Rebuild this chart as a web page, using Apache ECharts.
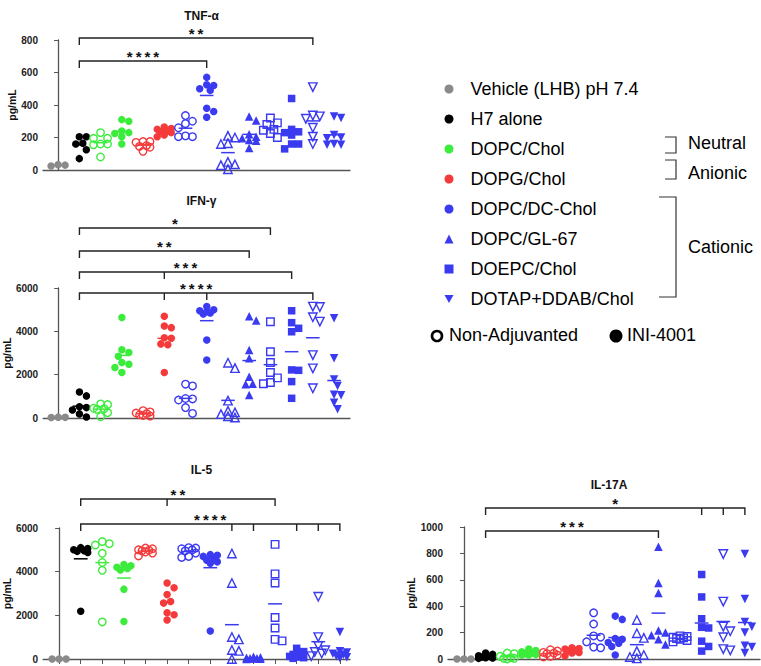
<!DOCTYPE html>
<html>
<head>
<meta charset="utf-8">
<script src="https://cdn.jsdelivr.net/npm/echarts@6/dist/echarts.min.js"></script>
<style>
  html, body { margin: 0; padding: 0; background: #fff; }
  #chart { width: 761px; height: 666px; }
</style>
</head>
<body>
<div id="chart"></div>
<script>
// groups along each x axis (open = non-adjuvanted, filled = INI-4001)
const groupNames = ['Vehicle (LHB) pH 7.4', 'H7 alone', 'DOPC/Chol', 'DOPC/Chol', 'DOPG/Chol', 'DOPG/Chol',
  'DOPC/DC-Chol', 'DOPC/DC-Chol', 'DOPC/GL-67', 'DOPC/GL-67', 'DOEPC/Chol', 'DOEPC/Chol',
  'DOTAP+DDAB/Chol', 'DOTAP+DDAB/Chol'];
const groupFilled = [true, true, false, true, false, true, false, true, false, true, false, true, false, true];
const legendNames = ['Vehicle (LHB) pH 7.4', 'H7 alone', 'DOPC/Chol', 'DOPG/Chol', 'DOPC/DC-Chol',
  'DOPC/GL-67', 'DOEPC/Chol', 'DOTAP+DDAB/Chol'];

// pg/mL per mouse, one list per group
const tnfValues = [
  [25, 33, 30],
  [205, 205, 165, 160, 125, 70],
  [230, 195, 195, 160, 160, 155, 80],
  [310, 300, 240, 230, 225, 205, 160],
  [175, 175, 170, 150, 145, 140, 115],
  [265, 255, 250, 240, 235, 230, 215, 205],
  [335, 300, 285, 260, 210, 205, 205],
  [570, 525, 520, 500, 490, 380, 360, 325],
  [210, 200, 165, 160, 50, 35, 30, 5],
  [330, 305, 220, 205, 195, 185, 180, 135],
  [320, 290, 280, 250, 245, 225, 200],
  [440, 250, 235, 230, 215, 160, 160, 130],
  [510, 335, 330, 315, 260, 205, 160],
  [330, 320, 215, 200, 195, 160, 155, 155]
];
const ifnValues = [
  [20, 30, 40],
  [1200, 1020, 520, 480, 370, 190, 50],
  [650, 620, 450, 430, 400, 250, 60],
  [4640, 3150, 3020, 2850, 2560, 2480, 2330, 2100],
  [340, 280, 230, 200, 150, 120, 90],
  [4700, 4250, 4170, 3700, 3680, 3420, 3380, 2100],
  [1560, 1480, 900, 880, 830, 480, 210],
  [5150, 5000, 4950, 4900, 4850, 4800, 3600, 2680],
  [2550, 2300, 800, 330, 260, 180, 80, 20],
  [4700, 4500, 3140, 2760, 1900, 1580, 1560, 1060],
  [4440, 3060, 2560, 2100, 1850, 1640, 1580],
  [4950, 4400, 4140, 3980, 2220, 2200, 1680, 910],
  [5140, 5120, 4650, 4450, 2900, 2290, 1370],
  [4600, 2760, 1780, 1480, 1070, 1050, 700, 400]
];
const il5Values = [
  [0, 0, 0],
  [5100, 5060, 5000, 4960, 4930, 4880, 2190],
  [5380, 5280, 5220, 4840, 4420, 4060, 1700],
  [4330, 4270, 4200, 4150, 4080, 3200, 1720],
  [5080, 5050, 5000, 4980, 4950, 4900, 4850, 4720],
  [3480, 3260, 2950, 2630, 2560, 2120, 2030, 1790],
  [5100, 5080, 5050, 5000, 4950, 4850, 4700, 4650],
  [4780, 4750, 4700, 4600, 4520, 4450, 4380, 1280],
  [4830, 3480, 1010, 900, 410, 370, 0],
  [100, 80, 60, 40, 30, 20, 10, 5],
  [5250, 3900, 3480, 1900, 1420, 900, 830],
  [490, 340, 210, 160, 120, 90, 60, 30],
  [2850, 1000, 600, 400, 320, 250, 130],
  [1240, 360, 300, 240, 190, 130, 80, 40]
];
const il17Values = [
  [0, 0, 0],
  [45, 35, 25, 20, 15, 10, 8, 5],
  [45, 40, 20, 10, 5, 5, 0],
  [75, 65, 55, 45, 40, 35, 30, 30],
  [70, 60, 50, 45, 40, 30, 20, 15],
  [85, 80, 75, 65, 60, 50, 45, 25],
  [350, 265, 175, 165, 130, 90, 85],
  [325, 300, 155, 150, 125, 120, 95, 30],
  [295, 195, 160, 60, 30, 15, 5],
  [850, 575, 500, 215, 200, 180, 150, 110],
  [175, 170, 165, 160, 155, 150, 140, 130],
  [640, 470, 305, 240, 235, 135, 95, 60],
  [795, 435, 245, 210, 165, 75, 65],
  [795, 455, 280, 245, 200, 100, 90, 45]
];

// y tick labels
const tnfTicks = [0, 200, 400, 600, 800];
const ifnTicks = [0, 2000, 4000, 6000];
const il5Ticks = [0, 2000, 4000, 6000];
const il17Ticks = [0, 200, 400, 600, 800, 1000];

// significance brackets: group index from/to, extra drops, stars
const tnfBrackets = [
  { from: 1, to: 12, mids: [], label: '**' },
  { from: 1, to: 7, mids: [], label: '****' }
];
const ifnBrackets = [
  { from: 1, to: 10, mids: [], label: '*' },
  { from: 1, to: 9, mids: [], label: '**' },
  { from: 1, to: 11, mids: [5], label: '***' },
  { from: 1, to: 12, mids: [5, 7], label: '****' }
];
const il5Brackets = [
  { from: 1, to: 10, mids: [5], label: '**' },
  { from: 1, to: 13, mids: [8, 9, 11, 12], label: '****' }
];
const il17Brackets = [
  { from: 1, to: 13, mids: [11, 12], label: '*' },
  { from: 1, to: 9, mids: [], label: '***' }
];

// ---- styles / layout ----
const FONT = '"Liberation Sans", Arial, Helvetica, sans-serif';
const colorOf = {
  'Vehicle (LHB) pH 7.4': '#8a8a8a',
  'H7 alone': '#000000',
  'DOPC/Chol': '#3cec3c',
  'DOPG/Chol': '#f43a3a',
  'DOPC/DC-Chol': '#3a3af0',
  'DOPC/GL-67': '#3a3af0',
  'DOEPC/Chol': '#3a3af0',
  'DOTAP+DDAB/Chol': '#3a3af0'
};
const symbolOf = {
  'DOPC/GL-67': ['triangle', 8.5],
  'DOEPC/Chol': ['rect', 7.5],
  'DOTAP+DDAB/Chol': ['path://M0,0L10,0L5,8.7Z', 8.5]
};

const panels = [
  { title: 'TNF-α', titleTop: 5, values: tnfValues, ticks: tnfTicks, brackets: tnfBrackets, levels: [-2, 21],
    grid: { left: 43, top: 40, width: 307, height: 130 }, xMin: -0.71, xMax: 13.75, xTicks: false, nameGap: 25 },
  { title: 'IFN-γ', titleTop: 190, values: ifnValues, ticks: ifnTicks, brackets: ifnBrackets, levels: [-60, -37, -16, 5],
    grid: { left: 43, top: 288, width: 307, height: 130 }, xMin: -0.71, xMax: 13.75, xTicks: false, nameGap: 30 },
  { title: 'IL-5', titleTop: 459, values: il5Values, ticks: il5Ticks, brackets: il5Brackets, levels: [-29, -4],
    grid: { left: 43, top: 528, width: 307, height: 131 }, xMin: -0.74, xMax: 13.47, xTicks: true, nameGap: 30 },
  { title: 'IL-17A', titleTop: 474, values: il17Values, ticks: il17Ticks, brackets: il17Brackets, levels: [-19, 4],
    grid: { left: 448, top: 527, width: 312, height: 132 }, xMin: -0.74, xMax: 13.7, xTicks: false, nameGap: 32 }
];

// compact beeswarm: points of close value sit side by side, within a narrow column
function swarm(vals, pxY, pxX) {
  const D = 7;
  const cand = [0, 3.5, -3.5, 7, -7];
  const order = vals.map((v, i) => i).sort((a, b) => vals[b] - vals[a]);
  const placed = [];
  const offs = vals.map(() => 0);
  order.forEach(i => {
    const y = vals[i] * pxY;
    let best = 0, bestD = -1;
    for (const dx of cand) {
      const d = placed.reduce((m, p) => Math.min(m, Math.hypot(p.x - dx, p.y - y)), Infinity);
      if (d >= D) { best = dx; bestD = d; break; }
      if (d > bestD) { best = dx; bestD = d; }
    }
    offs[i] = best;
    placed.push({ x: best, y: y });
  });
  return offs.map(o => o / pxX);
}

const mean = arr => arr.reduce((a, b) => a + b, 0) / arr.length;

const grids = [], xAxes = [], yAxes = [], titles = [], series = [];

panels.forEach((p, pi) => {
  const yMax = p.ticks[p.ticks.length - 1];
  grids.push(p.grid);
  titles.push({
    text: p.title, left: p.grid.left + p.grid.width / 2, top: p.titleTop, textAlign: 'center',
    textStyle: { fontFamily: FONT, fontSize: 12, fontWeight: 'bold', color: '#111' }
  });
  xAxes.push({
    type: 'value', gridIndex: pi, min: p.xMin, max: p.xMax,
    axisLine: { show: true, lineStyle: { color: '#555', width: 1.3 } },
    axisTick: p.xTicks ? { show: true, length: 5, customValues: p.values.map((v, i) => i), lineStyle: { color: '#555', width: 1 } } : { show: false },
    axisLabel: { show: false },
    splitLine: { show: false }
  });
  yAxes.push({
    type: 'value', gridIndex: pi, min: p.ticks[0], max: yMax, interval: p.ticks[1] - p.ticks[0],
    name: 'pg/mL', nameLocation: 'middle', nameGap: p.nameGap,
    nameTextStyle: { fontFamily: FONT, fontSize: 10.5, fontWeight: 'bold', color: '#111' },
    axisLine: { show: true, lineStyle: { color: '#555', width: 1.3 } },
    axisTick: { show: true, length: 4, lineStyle: { color: '#555' } },
    axisLabel: { fontFamily: FONT, fontSize: 10, fontWeight: 'bold', color: '#222', margin: 5, formatter: v => String(v) },
    splitLine: { show: false }
  });

  const pxY = p.grid.height / yMax;
  const pxX = p.grid.width / (p.xMax - p.xMin);

  p.values.forEach((vals, gi) => {
    const name = groupNames[gi];
    const filled = groupFilled[gi];
    const c = colorOf[name];
    const sym = symbolOf[name] || ['circle', 7.5];
    const offs = swarm(vals, pxY, pxX);
    series.push({
      type: 'scatter', name: filled ? name : name + ' (Non-Adjuvanted)',
      xAxisIndex: pi, yAxisIndex: pi, clip: false, silent: true,
      symbol: sym[0], symbolSize: sym[1],
      itemStyle: filled ? { color: c, opacity: 1 } : { color: 'rgba(255,255,255,0)', borderColor: c, borderWidth: 1.4, opacity: 1 },
      emphasis: { disabled: true },
      data: vals.map((v, k) => [gi + offs[k], v])
    });
  });

  // mean lines
  series.push({
    type: 'custom', xAxisIndex: pi, yAxisIndex: pi, silent: true, clip: false,
    data: p.values.map((vals, gi) => [gi, mean(vals)]),
    renderItem: (params, api) => {
      const gi = api.value(0);
      const a = api.coord([gi - 0.32, api.value(1)]);
      const b = api.coord([gi + 0.32, api.value(1)]);
      return {
        type: 'line', shape: { x1: a[0], y1: a[1], x2: b[0], y2: b[1] },
        style: { stroke: colorOf[groupNames[gi]], lineWidth: 1.5 }
      };
    }
  });

  // significance brackets
  series.push({
    type: 'custom', xAxisIndex: pi, yAxisIndex: pi, silent: true, clip: false,
    data: p.brackets.map(b => [b.from, b.to, yMax]),
    encode: { x: [0, 1], y: 2 },
    renderItem: (params, api) => {
      const b = p.brackets[params.dataIndex];
      const top = api.coord([b.from, yMax])[1];
      const y = top + p.levels[params.dataIndex];
      const drop = 7;
      const x1 = api.coord([b.from, 0])[0];
      const x2 = api.coord([b.to, 0])[0];
      const children = [{
        type: 'polyline',
        shape: { points: [[x1, y + drop], [x1, y], [x2, y], [x2, y + drop]] },
        style: { stroke: '#222', lineWidth: 1.4, fill: null }
      }];
      b.mids.forEach(m => {
        const xm = api.coord([m, 0])[0];
        children.push({ type: 'line', shape: { x1: xm, y1: y, x2: xm, y2: y + drop }, style: { stroke: '#222', lineWidth: 1.4 } });
      });
      children.push({
        type: 'text',
        style: {
          x: (x1 + x2) / 2, y: y + 3, text: b.label.split('').join('\u2009'),
          textAlign: 'center', textVerticalAlign: 'bottom',
          font: 'bold 15px ' + FONT, fill: '#111'
        }
      });
      return { type: 'group', children: children };
    }
  });
});

const chart = echarts.init(document.getElementById('chart'), null, { renderer: 'svg' });
chart.setOption({
  animation: false,
  backgroundColor: '#fff',
  textStyle: { fontFamily: FONT },
  title: titles,
  grid: grids,
  xAxis: xAxes,
  yAxis: yAxes,
  legend: {
    data: legendNames, orient: 'vertical', left: 439.5, top: 75,
    itemWidth: 9, itemHeight: 9, itemGap: 12, selectedMode: false,
    formatter: n => '{g| }' + n,
    textStyle: { fontFamily: FONT, fontSize: 18, color: '#000', rich: { g: { width: 12 } } }
  },
  graphic: [
    { type: 'polyline', shape: { points: [[665, 137], [676, 137], [676, 153], [665, 153]] }, style: { stroke: '#333', lineWidth: 1.2, fill: null } },
    { type: 'polyline', shape: { points: [[665, 160], [676, 160], [676, 179], [665, 179]] }, style: { stroke: '#333', lineWidth: 1.2, fill: null } },
    { type: 'polyline', shape: { points: [[659, 197], [676, 197], [676, 297], [659, 297]] }, style: { stroke: '#333', lineWidth: 1.2, fill: null } },
    { type: 'text', left: 688, top: 134, style: { text: 'Neutral', font: '18px ' + FONT, fill: '#000' } },
    { type: 'text', left: 688, top: 164, style: { text: 'Anionic', font: '18px ' + FONT, fill: '#000' } },
    { type: 'text', left: 688, top: 238, style: { text: 'Cationic', font: '18px ' + FONT, fill: '#000' } },
    { type: 'circle', shape: { cx: 437, cy: 336, r: 5 }, style: { fill: '#fff', stroke: '#000', lineWidth: 2.6 } },
    { type: 'text', left: 449, top: 326, style: { text: 'Non-Adjuvanted', font: '18px ' + FONT, fill: '#000' } },
    { type: 'circle', shape: { cx: 616, cy: 336, r: 6.5 }, style: { fill: '#000' } },
    { type: 'text', left: 627, top: 326, style: { text: 'INI-4001', font: '18px ' + FONT, fill: '#000' } }
  ],
  series: series
});
</script>
</body>
</html>
